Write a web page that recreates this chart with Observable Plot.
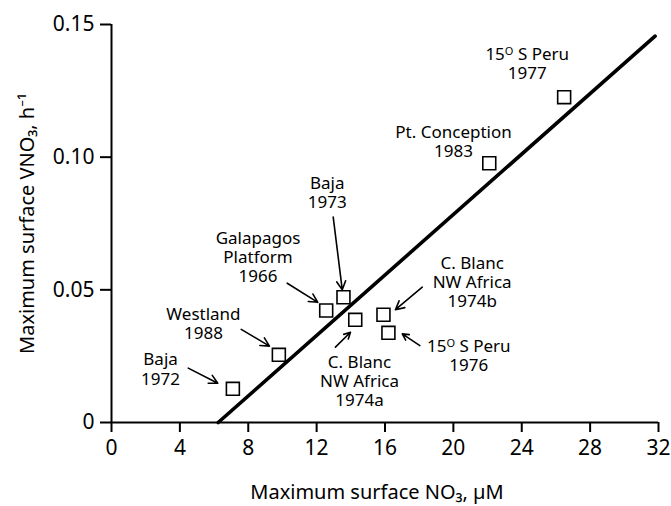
<!DOCTYPE html>
<html>
<head>
<meta charset="utf-8">
<script src="https://cdn.jsdelivr.net/npm/d3@7"></script>
<script src="https://cdn.jsdelivr.net/npm/@observablehq/plot@0.6"></script>
<style>
  html, body { margin: 0; padding: 0; background: #fff; }
  #chart svg { display: block; }
  #chart svg [aria-label="x-axis tick"] path,
  #chart svg [aria-label="y-axis tick"] path { stroke-width: 2; }
</style>
</head>
<body>
<div id="chart"></div>
<script>
// ---- data ----
const sites = ["Baja", "Westland", "Galapagos\nPlatform", "Baja", "C. Blanc\nNW Africa", "C. Blanc\nNW Africa", "15ᴼ S Peru", "Pt. Conception", "15ᴼ S Peru"];
const years = ["1972", "1988", "1966", "1973", "1974a", "1974b", "1976", "1983", "1977"];
const no3 = [7.10, 9.79, 12.56, 13.57, 14.26, 15.91, 16.20, 22.10, 26.48];      // µM
const vno3 = [0.0127, 0.0255, 0.0422, 0.0472, 0.0387, 0.0406, 0.0338, 0.0977, 0.1226]; // h^-1
const fitNO3 = [6.24, 31.8];
const fitVNO3 = [0, 0.1456];
const xTicks = [0, 4, 8, 12, 16, 20, 24, 28, 32];
const yTicks = [0, 0.05, 0.10, 0.15];
const xTitle = "Maximum surface NO₃, µM";
const yTitle = "Maximum surface VNO₃, h⁻¹";

// ---- annotation layout (label block centre, arrow start/end), in data units ----
const labelPos = [
  {lx: 2.87, ly: 0.0202, a: [4.49, 0.0205, 6.22, 0.0148]},
  {lx: 5.38, ly: 0.0374, a: [7.59, 0.0351, 9.24, 0.0288]},
  {lx: 8.57, ly: 0.0623, a: [10.28, 0.0525, 12.07, 0.0453]},
  {lx: 12.62, ly: 0.0868, a: [12.97, 0.0774, 13.50, 0.0500]},
  {lx: 14.51, ly: 0.0155, a: [13.10, 0.0284, 13.98, 0.0340]},
  {lx: 21.10, ly: 0.0531, a: [18.18, 0.0510, 16.61, 0.0425]},
  {lx: 20.90, ly: 0.0254, a: [18.04, 0.0290, 17.01, 0.0334]},
  {lx: 20.01, ly: 0.1060, a: null},
  {lx: 24.32, ly: 0.1355, a: null}
];

const points = no3.map((x, i) => ({x, y: vno3[i]}));
const labels = sites.map((s, i) => ({text: s + "\n" + years[i], x: labelPos[i].lx, y: labelPos[i].ly}));
const arrows = labelPos.filter(d => d.a).map(d => ({x1: d.a[0], y1: d.a[1], x2: d.a[2], y2: d.a[3]}));
const fit = fitNO3.map((x, i) => ({x, y: fitVNO3[i]}));

const chart = Plot.plot({
  width: 671,
  height: 506,
  marginLeft: 111,
  marginRight: 13,
  marginTop: 24,
  marginBottom: 84,
  style: {fontFamily: "'Noto Sans', sans-serif", fontSize: "21px", color: "#000", background: "#fff"},
  x: {domain: [0, 32], ticks: xTicks, tickSize: 10, tickPadding: 8, label: null},
  y: {domain: [0, 0.15], ticks: yTicks, tickSize: 11, tickPadding: 6, label: null,
      tickFormat: d => d === 0 ? "0" : d.toFixed(2)},
  marks: [
    Plot.ruleY([0], {strokeWidth: 2}),
    Plot.ruleX([0], {strokeWidth: 2}),
    Plot.line(fit, {x: "x", y: "y", strokeWidth: 3.6, stroke: "#000"}),
    Plot.arrow(arrows, {x1: "x1", y1: "y1", x2: "x2", y2: "y2", stroke: "#000", strokeWidth: 1.6, headLength: 9, headAngle: 55}),
    Plot.dot(points, {x: "x", y: "y", symbol: "square", r: 7.3, stroke: "#000", fill: "#fff", strokeWidth: 1.6}),
    Plot.text(labels, {x: "x", y: "y", text: "text", fontSize: 17, lineHeight: 1.12, lineAnchor: "middle", fill: "#000"}),
    Plot.text([xTitle], {frameAnchor: "bottom", dy: 70, dx: -8, lineAnchor: "middle", textAnchor: "middle", fontSize: 20, fill: "#000"}),
    Plot.text([yTitle], {frameAnchor: "left", dx: -84, rotate: -90, textAnchor: "middle", lineAnchor: "middle", fontSize: 20, fill: "#000"})
  ]
});
document.getElementById("chart").appendChild(chart);
</script>
</body>
</html>
